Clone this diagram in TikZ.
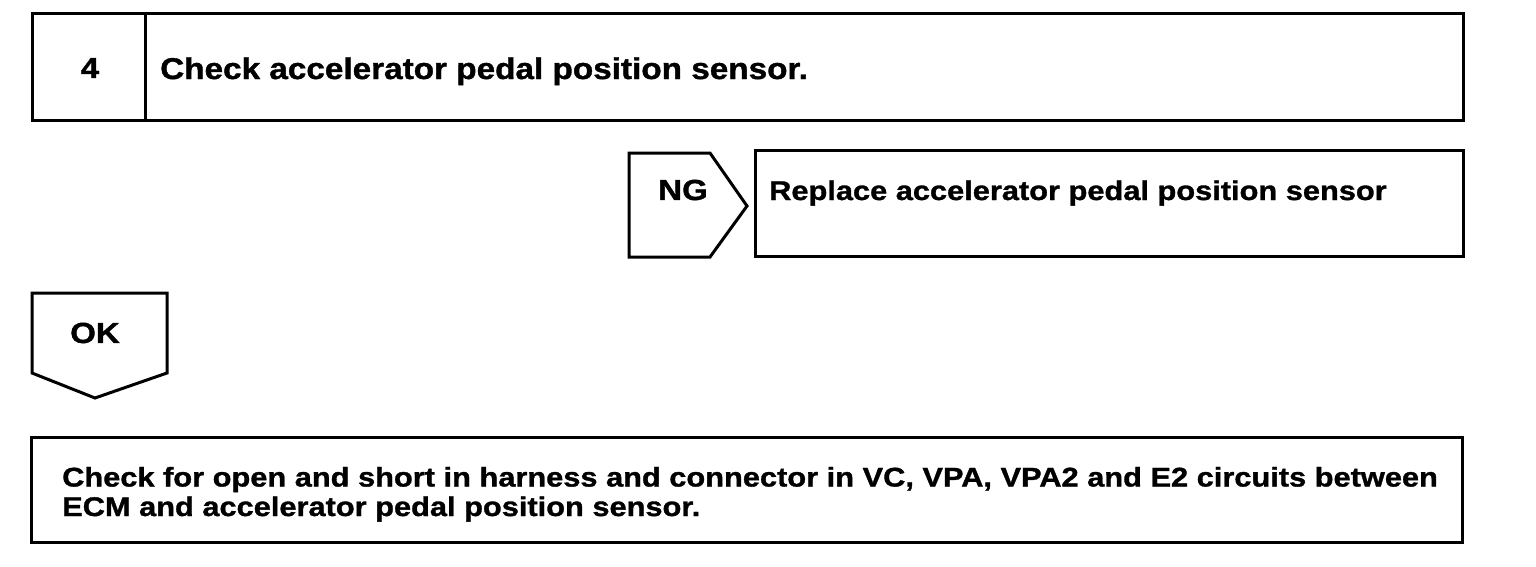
\documentclass[tikz,border=0pt]{standalone}
\usepackage{fontspec}
\setmainfont{Liberation Sans}
\newfontfamily\widefont[FakeStretch=1.14,BoldFeatures={FakeBold=1.2}]{Liberation Sans}
\newfontfamily\titlefont[FakeStretch=1.11,BoldFeatures={FakeBold=1.2}]{Liberation Sans}
\begin{document}
\begin{tikzpicture}[x=1pt,y=-1pt,
  box/.style={draw=black,line width=3pt,line join=miter},
  lbl/.style={font=\widefont\fontsize{29}{30}\selectfont\bfseries,inner sep=0pt},
  txt/.style={font=\widefont\fontsize{27}{29.5}\selectfont\bfseries,inner sep=0pt,anchor=base west,align=left},
  ttl/.style={font=\titlefont\fontsize{30}{30}\selectfont\bfseries,inner sep=0pt,anchor=base west}]
\useasboundingbox (0,0) rectangle (1536,566);
% top box
\draw[box] (32,13) rectangle (1463,120);
\draw[box] (145,13) -- (145,120);
\node[lbl] (num) at (90,68) {4};
\node[ttl] (title) at (160,79) {Check accelerator pedal position sensor.};
% NG arrow
\draw[box] (629,153) -- (710,153) -- (747,206) -- (710,257) -- (629,257) -- cycle;
\node[lbl] (ng) at (683,190) {NG};
% Replace box
\draw[box] (755,150) rectangle (1463,256);
\node[txt] (rep) at (769,200) {Replace accelerator pedal position sensor};
% OK arrow
\draw[box] (32,293) -- (167,293) -- (167,373) -- (95,398) -- (32,373) -- cycle;
\node[lbl] (ok) at (95,333) {OK};
% bottom box
\draw[box] (31,437) rectangle (1462,542);
\node[txt] (chk) at (62,516) {Check for open and short in harness and connector in VC, VPA, VPA2 and E2 circuits between\\ECM and accelerator pedal position sensor.};
\end{tikzpicture}
\end{document}
